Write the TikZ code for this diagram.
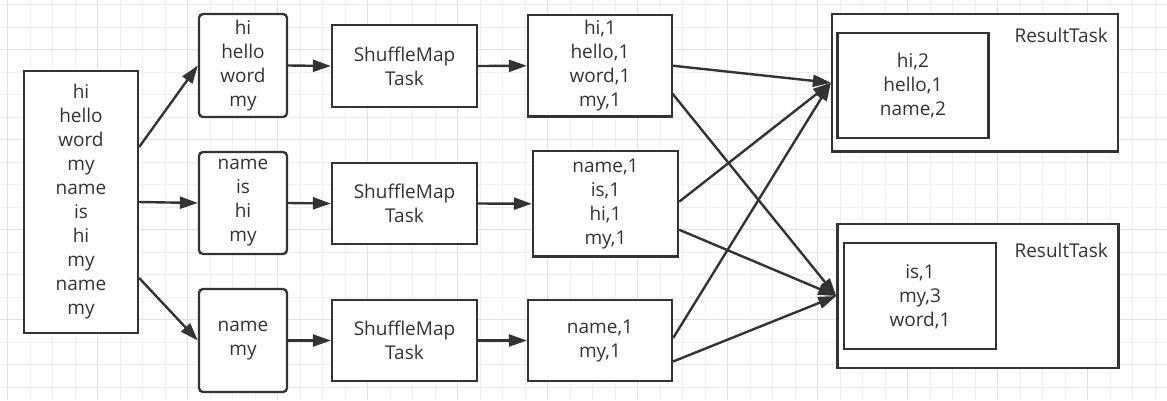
\documentclass[tikz,border=0pt]{standalone}
\usepackage{fontspec}
\setmainfont{Open Sans}
\usetikzlibrary{arrows.meta,calc}
\definecolor{ink}{RGB}{51,51,51}
\definecolor{gridminor}{RGB}{238,238,238}
\definecolor{gridmajor}{RGB}{224,224,224}
\tikzset{
  box/.style={draw=ink, line width=2.3pt, fill=white, text=ink, align=center,
    inner sep=0pt, font=\fontsize{19}{24}\selectfont},
  rbox/.style={box, rounded corners=4pt},
  conn/.style={draw=ink, line width=2.4pt, -{Triangle[length=18pt,width=12pt]}},
  lbl/.style={text=ink, inner sep=0pt, font=\fontsize{19}{24}\selectfont}
}
\begin{document}
\begin{tikzpicture}[x=1pt,y=-1pt]
\useasboundingbox (0,0) rectangle (1167,400);
\fill[white] (0,0) rectangle (1167,400);
% grid
\foreach \x in {7.5,30,...,1165} \draw[gridminor, line width=1pt] (\x,0) -- (\x,400);
\foreach \y in {4.5,27,...,398} \draw[gridminor, line width=1pt] (0,\y) -- (1167,\y);
\foreach \x in {7.5,97.5,...,1165} \draw[gridmajor, line width=1pt] (\x,0) -- (\x,400);
\foreach \y in {49.5,139.5,...,398} \draw[gridmajor, line width=1pt] (0,\y) -- (1167,\y);

% source
\node[box, minimum width=114pt, minimum height=262pt] (src) at (81,202)
  {hi\\hello\\word\\my\\name\\is\\hi\\my\\name\\my};

% splits
\node[rbox, minimum width=88pt, minimum height=103pt] (sp1) at (243,65.5) {hi\\hello\\word\\my};
\node[rbox, minimum width=88pt, minimum height=102pt] (sp2) at (243,203) {name\\is\\hi\\my};
\node[rbox, minimum width=88pt, minimum height=103pt] (sp3) at (243,340.5) {name\\my};

% shuffle map tasks
\node[box, minimum width=145pt, minimum height=82pt] (sm1) at (404.5,66) {ShuffleMap\\Task};
\node[box, minimum width=145pt, minimum height=81pt] (sm2) at (404.5,203.5) {ShuffleMap\\Task};
\node[box, minimum width=145pt, minimum height=81pt] (sm3) at (404.5,340.5) {ShuffleMap\\Task};

% map outputs
\node[box, minimum width=144pt, minimum height=101.5pt] (mo1) at (600,65.75) {hi,1\\hello,1\\word,1\\my,1};
\node[box, minimum width=145pt, minimum height=105.5pt] (mo2) at (605.5,203.75) {name,1\\is,1\\hi,1\\my,1};
\node[box, minimum width=144pt, minimum height=81pt] (mo3) at (600,340.5) {name,1\\my,1};

% result tasks
\node[box, minimum width=286pt, minimum height=137.5pt] (rt1) at (975,82.75) {};
\node[box, minimum width=151pt, minimum height=105pt] (ri1) at (912.9,85.2) {hi,2\\hello,1\\name,2};
\node[lbl, anchor=east] (rl1) at (1108,35) {ResultTask};
\node[box, minimum width=281pt, minimum height=143.4pt] (rt2) at (977.9,296) {};
\node[box, minimum width=151.4pt, minimum height=106pt] (ri2) at (920,296.3) {is,1\\my,3\\word,1};
\node[lbl, anchor=east] (rl2) at (1108,250.7) {ResultTask};

% connectors
\draw[conn] ($(src.east)+(0,-55)$) -- (sp1.west);
\draw[conn] (src.east) -- (sp2.west);
\draw[conn] ($(src.east)+(0,76)$) -- (sp3.west);

\draw[conn] (sp1.east) -- (sm1.west);
\draw[conn] (sp2.east) -- (sm2.west);
\draw[conn] (sp3.east) -- (sm3.west);

\draw[conn] (sm1.east) -- (mo1.west);
\draw[conn] (sm2.east) -- (mo2.west);
\draw[conn] (sm3.east) -- (mo3.west);

\draw[conn] (mo1.east) -- (rt1.west);
\draw[conn] ($(mo1.east)+(-1,27.5)$) -- (rt2.west);
\draw[conn] ($(mo2.east)+(0,-2)$) -- (rt1.west);
\draw[conn] ($(mo2.east)+(0,26)$) -- (rt2.west);
\draw[conn] ($(mo3.east)+(0,-2.5)$) -- (rt1.west);
\draw[conn] ($(mo3.east)+(0,21)$) -- (rt2.west);
\end{tikzpicture}
\end{document}
